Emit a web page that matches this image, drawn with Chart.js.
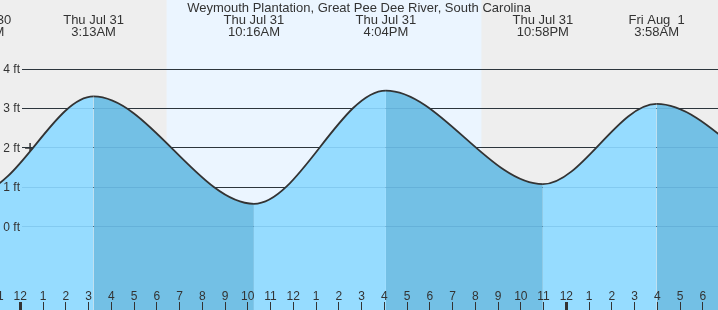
<!DOCTYPE html>
<html>
<head>
<meta charset="utf-8">
<title>Weymouth Plantation tides</title>
<script src="https://cdn.jsdelivr.net/npm/chart.js@4"></script>
<style>
  html, body { margin: 0; padding: 0; background: #eeeeee; }
  #wrap { width: 718px; height: 310px; }
</style>
</head>
<body>
<div id="wrap"><canvas id="tideChart" width="718" height="310"></canvas></div>
<script>
// hours are counted from midnight, Thu Jul 31
const tideHours   = [-7.0, -1.82, 3.22, 10.27, 16.07, 22.97, 27.97, 35.0, 40.8];
const tideHeights = [3.4, 0.9, 3.31, 0.58, 3.46, 1.08, 3.12, 0.84, 3.4];
const tideDays    = ['', 'Wed Jul 30', 'Thu Jul 31', 'Thu Jul 31', 'Thu Jul 31', 'Thu Jul 31', 'Fri Aug  1', '', ''];
const tideTimes   = ['', '10:11PM', '3:13AM', '10:16AM', '4:04PM', '10:58PM', '3:58AM', '', ''];

// "now" marker
const nowHour = 0.43;
const nowHeight = 2.0;

// daylight
const sunriseHour = 6.43;
const sunsetHour = 20.27;

const feetTicks = [0, 1, 2, 3, 4];
const firstHour = -1;
const lastHour = 31;

const titleText = 'Weymouth Plantation, Great Pee Dee River, South Carolina';

const NIGHT = '#eeeeee';
const DAY = '#ebf5ff';
const RISE = '#96dcff';
const FALL = '#73c0e5';
const INK = '#333333';
const FONT = '"Liberation Sans", Arial, sans-serif';

function drawGrid(chart, color) {
    const ctx = chart.ctx;
    const y = chart.scales.y;
    ctx.save();
    ctx.fillStyle = color;
    feetTicks.forEach(function (f) {
        ctx.fillRect(22, Math.floor(y.getPixelForValue(f)), chart.width - 22, 1);
    });
    ctx.restore();
}

function hourLabel(h) {
    const v = ((h % 12) + 12) % 12;
    return v === 0 ? '12' : String(v);
}

const tideDecor = {
    id: 'tideDecor',
    beforeDraw(chart) {
        const ctx = chart.ctx;
        const x = chart.scales.x;
        ctx.save();
        ctx.fillStyle = NIGHT;
        ctx.fillRect(0, 0, chart.width, chart.height);
        const x0 = x.getPixelForValue(sunriseHour);
        const x1 = x.getPixelForValue(sunsetHour);
        ctx.fillStyle = DAY;
        ctx.fillRect(x0, 0, x1 - x0, chart.height);
        ctx.restore();
    },
    beforeDatasetsDraw(chart) {
        drawGrid(chart, INK);
    },
    afterDatasetsDraw(chart) {
        // faint grid showing through the water
        drawGrid(chart, 'rgba(0,70,130,0.12)');

        const ctx = chart.ctx;
        const x = chart.scales.x;
        const y = chart.scales.y;
        ctx.save();
        ctx.fillStyle = INK;

        // feet labels
        ctx.font = '12px ' + FONT;
        ctx.textAlign = 'right';
        ctx.textBaseline = 'middle';
        feetTicks.forEach(function (f) {
            ctx.fillText(f + ' ft', 20, y.getPixelForValue(f) + 0.5);
        });

        // hour labels + ticks
        ctx.textAlign = 'center';
        ctx.textBaseline = 'alphabetic';
        for (let h = firstHour; h <= lastHour; h++) {
            const px = x.getPixelForValue(h);
            ctx.fillText(hourLabel(h), px, 300);
            if (((h % 24) + 24) % 24 === 0) {
                ctx.fillRect(Math.floor(px) - 1, 302, 3, 8);
            } else {
                ctx.fillRect(Math.floor(px), 302, 1, 8);
            }
        }

        // title
        ctx.font = '13px ' + FONT;
        ctx.fillText(titleText, chart.width / 2, 12);

        // high / low labels
        tideHours.forEach(function (h, i) {
            if (!tideDays[i]) return;
            const px = x.getPixelForValue(h);
            ctx.fillText(tideDays[i], px, 24);
            ctx.fillText(tideTimes[i], px, 36);
        });
        ctx.restore();
    }
};

function loadChart() {
    const canvas = document.getElementById('tideChart');
    if (!canvas) return;

    new Chart(canvas, {
        type: 'line',
        data: {
            datasets: [{
                label: 'Tide',
                data: tideHours.map(function (h, i) { return { x: h, y: tideHeights[i] }; }),
                borderColor: INK,
                borderWidth: 1.8,
                backgroundColor: RISE,
                fill: 'start',
                cubicInterpolationMode: 'monotone',
                pointRadius: 0,
                segment: {
                    backgroundColor: function (c) {
                        return c.p1.parsed.y < c.p0.parsed.y ? FALL : RISE;
                    }
                }
            }, {
                label: 'Now',
                data: [{ x: nowHour, y: nowHeight }],
                showLine: false,
                pointStyle: 'cross',
                pointRadius: 5,
                pointBorderWidth: 1.5,
                pointBorderColor: INK,
                borderColor: INK
            }]
        },
        options: {
            responsive: false,
            animation: false,
            events: [],
            layout: { padding: 0, autoPadding: false },
            plugins: {
                legend: { display: false },
                tooltip: { enabled: false }
            },
            scales: {
                x: { type: 'linear', min: -0.892, max: 30.668, display: false },
                y: { min: -2.117, max: 5.761, display: false }
            }
        },
        plugins: [tideDecor]
    });
}

document.addEventListener('DOMContentLoaded', function () {
    loadChart();
});
</script>
</body>
</html>
